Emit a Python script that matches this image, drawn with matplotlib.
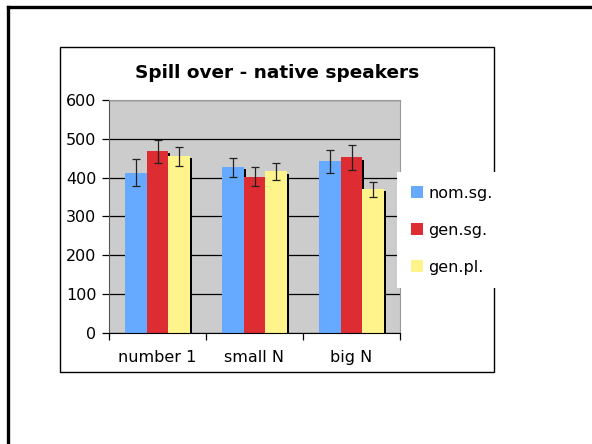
import matplotlib
matplotlib.use("Agg")
import matplotlib.pyplot as plt
import matplotlib.patheffects as pe
from matplotlib.patches import Patch, Rectangle
from matplotlib.lines import Line2D
import numpy as np

# data
categories = ["number 1", "small N", "big N"]
series = ["nom.sg.", "gen.sg.", "gen.pl."]
nom_sg = [413, 427, 442]
gen_sg = [468, 403, 452]
gen_pl = [455, 416, 370]
nom_sg_err = [34, 24, 29]
gen_sg_err = [29, 25, 31]
gen_pl_err = [25, 22, 20]

colors = ["#66aaff", "#dd2c32", "#fff38c"]

fig = plt.figure(figsize=(5.92, 4.44), dpi=100)
W, H = 592, 444

# slide frame (top and left edges only)
fig.add_artist(Line2D([8 / W, 1], [1 - 7 / H, 1 - 7 / H], color="black", lw=2.4))
fig.add_artist(Line2D([8 / W, 8 / W], [0, 1 - 7 / H], color="black", lw=2.4))

# chart box
fig.add_artist(Rectangle((60 / W, 1 - 372 / H), 434 / W, 325 / H, fill=False,
                         edgecolor="black", lw=1.0))

ax = fig.add_axes([109 / W, 1 - 333 / H, 291 / W, 233 / H])
ax.set_facecolor("#cccccc")

x = np.arange(len(categories))
bw = 0.222
shadow = [pe.SimplePatchShadow(offset=(1.5, -1.5), shadow_rgbFace="black", alpha=1.0), pe.Normal()]
all_vals = [nom_sg, gen_sg, gen_pl]
all_errs = [nom_sg_err, gen_sg_err, gen_pl_err]
for i, (vals, errs) in enumerate(zip(all_vals, all_errs)):
    pos = x + (i - 1) * bw
    bars = ax.bar(pos, vals, width=bw, color=colors[i], edgecolor="none", zorder=2)
    for b in bars:
        b.set_path_effects(shadow)
    ax.errorbar(pos, vals, yerr=errs, fmt="none", ecolor="#222222", elinewidth=0.9,
                capsize=2.8, capthick=0.9, zorder=3)

ax.set_xlim(-0.5, 2.5)
ax.set_ylim(0, 600)
ax.set_yticks(range(0, 601, 100))
ax.yaxis.grid(True, color="black", lw=0.9, zorder=1)
ax.set_axisbelow(True)

ax.set_xticks(x)
ax.set_xticklabels(categories)
ax.set_xticks([-0.5, 0.5, 1.5, 2.5], minor=True)
ax.tick_params(axis="x", which="major", length=0, pad=12, labelsize=11.5)
ax.tick_params(axis="x", which="minor", length=5, width=0.9, direction="out")
ax.tick_params(axis="y", length=5, width=0.9, pad=4, labelsize=11.5)

for s in ["top", "right"]:
    ax.spines[s].set_color("#999999")
ax.spines["left"].set_color("#555555")
ax.spines["bottom"].set_color("black")

fig.text(277 / W, 1 - 73 / H, "Spill over - native speakers", ha="center", va="center",
         fontsize=13.3, fontweight="bold")

handles = [Patch(facecolor=c, edgecolor="none") for c in colors]
leg = fig.legend(handles, series, loc="upper left", bbox_to_anchor=(397 / W, 1 - 172 / H),
                 frameon=True, fancybox=False, fontsize=11.5, handlelength=0.75,
                 handleheight=0.75, handletextpad=0.35, labelspacing=1.38, borderpad=0.85,
                 borderaxespad=0)
leg.get_frame().set_facecolor("white")
leg.get_frame().set_edgecolor("none")
leg.get_frame().set_alpha(1.0)

fig.savefig("out.png", dpi=100, facecolor="white")
